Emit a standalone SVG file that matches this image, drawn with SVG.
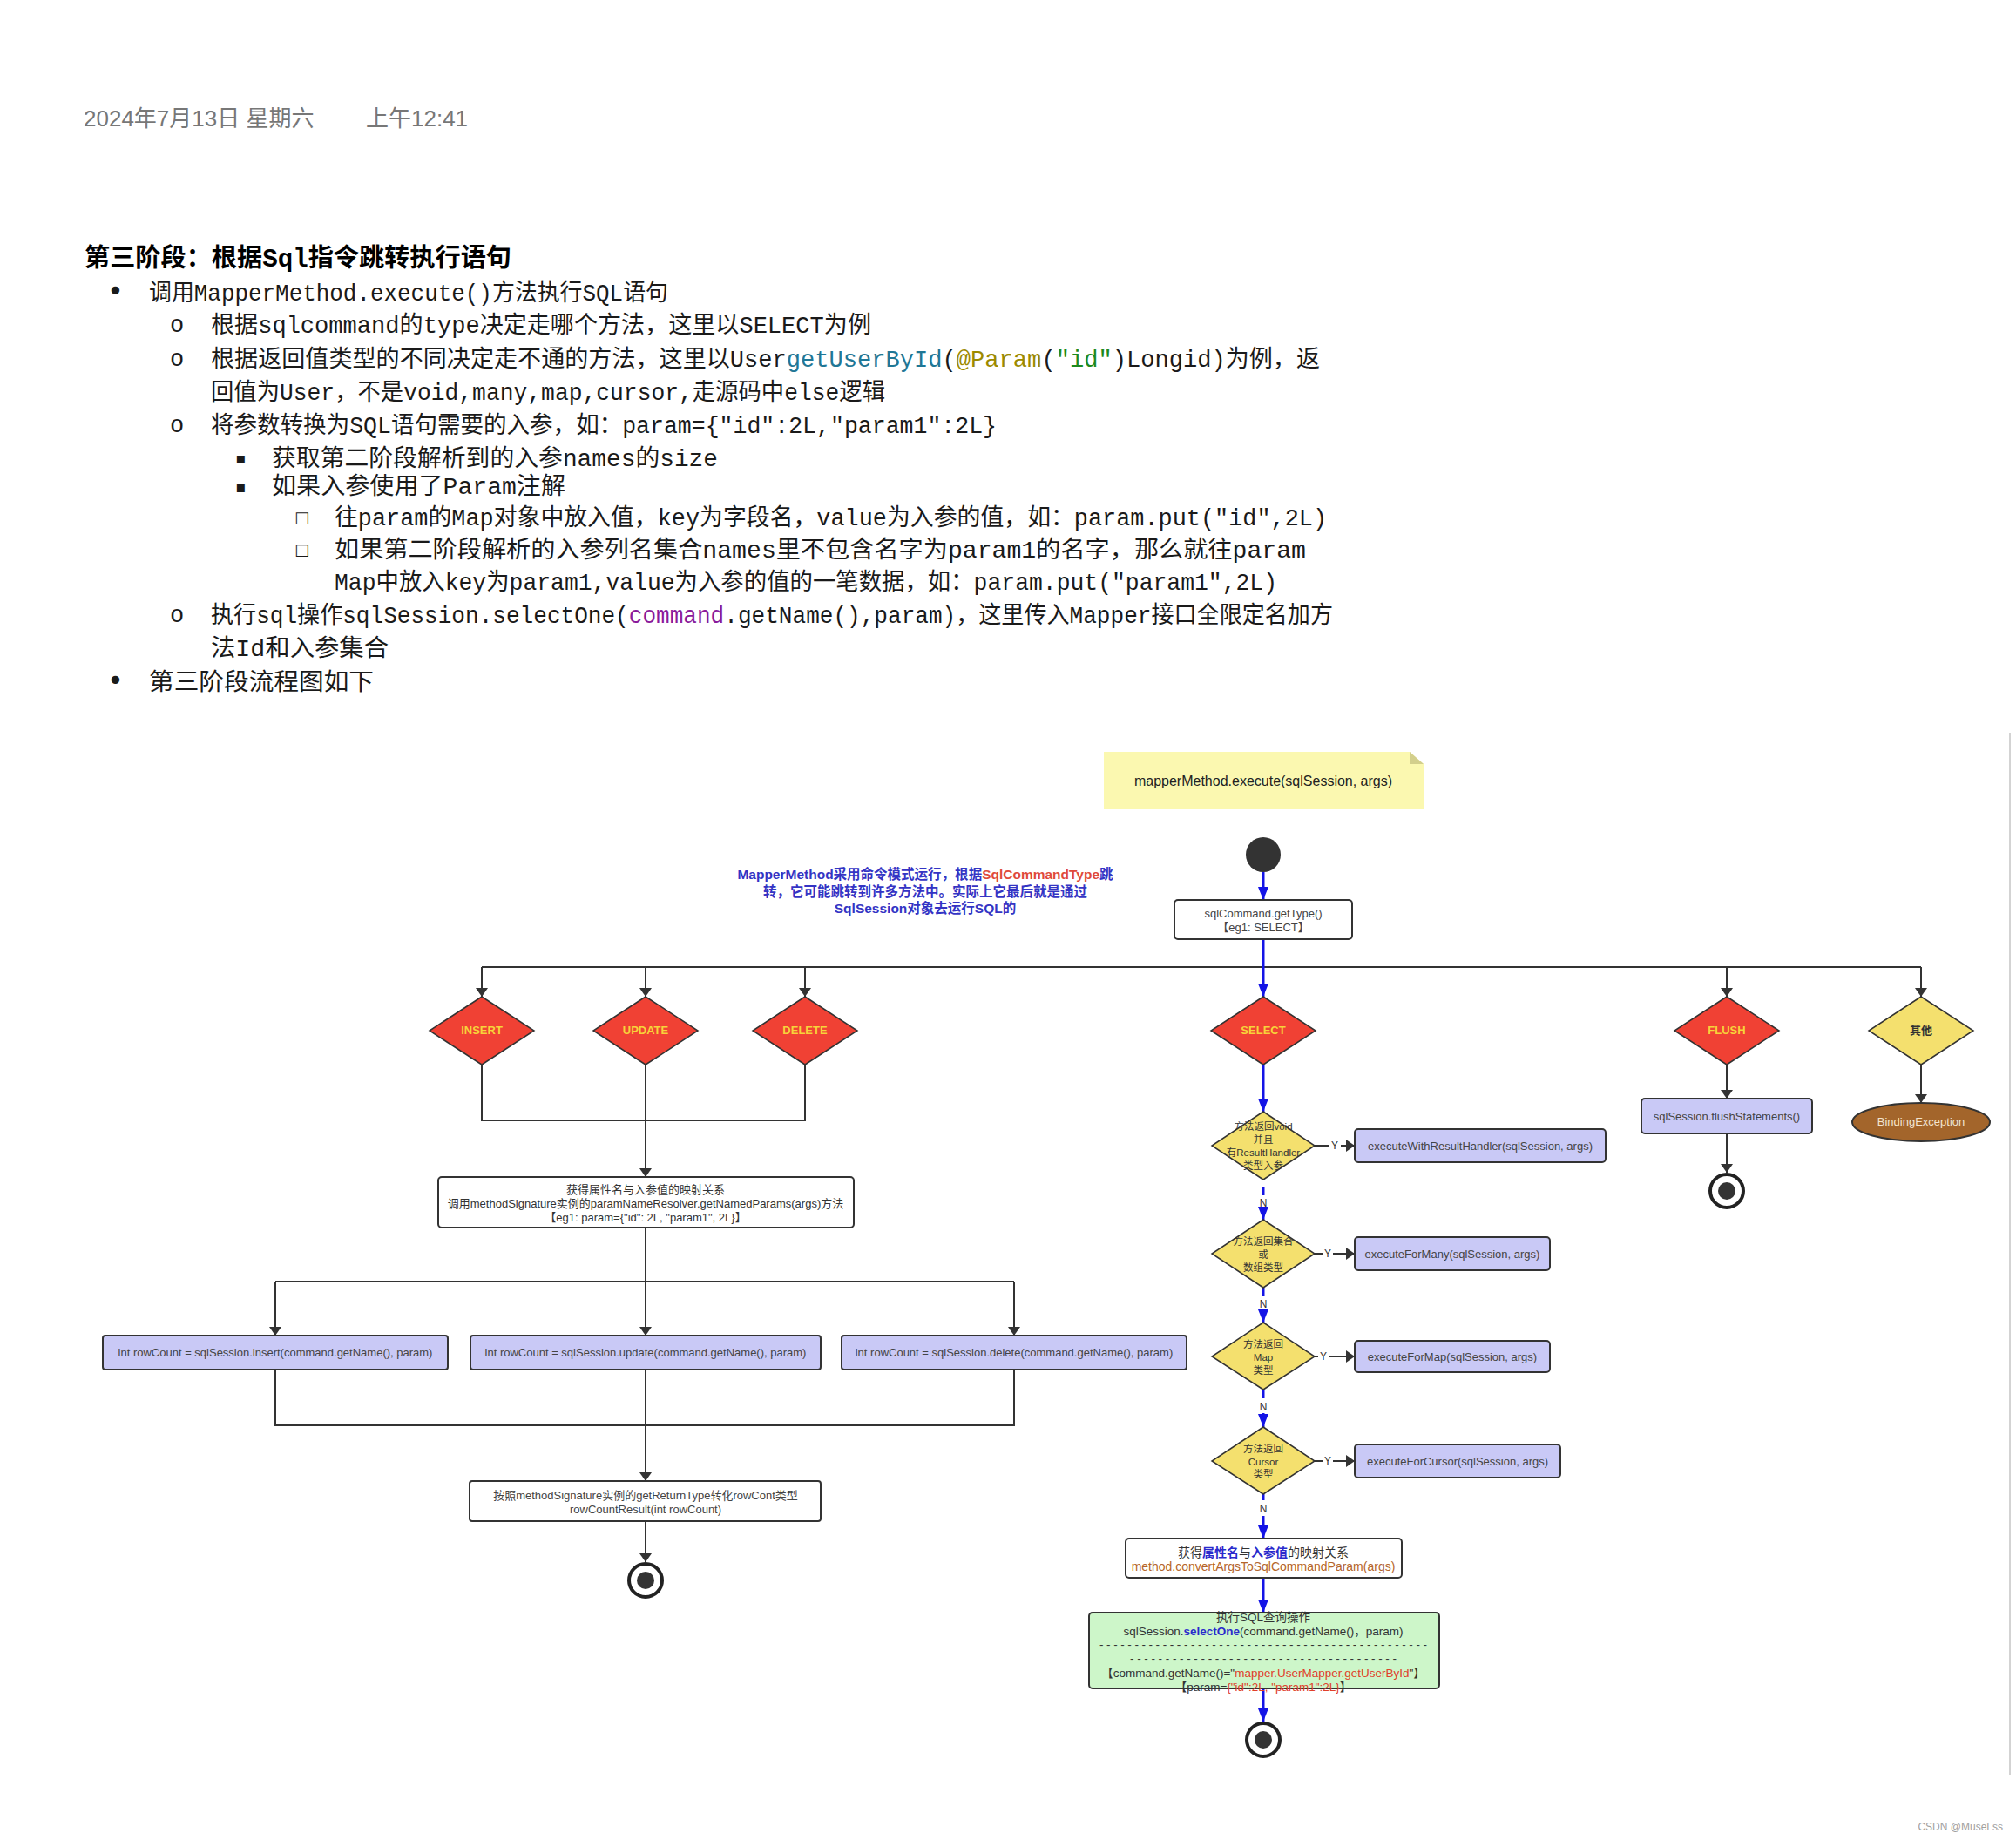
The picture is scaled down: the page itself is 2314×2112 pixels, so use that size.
<svg xmlns="http://www.w3.org/2000/svg" width="2314" height="2112" viewBox="0 0 2314 2112">
<style>
.bg{fill:#fff}
.date{font-family:"Liberation Sans","Noto Sans CJK SC",sans-serif;font-size:26px;fill:#777}
.body{font-family:"Liberation Mono","Noto Sans CJK SC",monospace;font-size:27px;fill:#1a1a1a}
.head{font-family:"Liberation Mono","Noto Sans CJK SC",monospace;font-size:29px;font-weight:bold;fill:#000}
.bul{font-family:"DejaVu Sans","Noto Sans CJK SC",sans-serif;fill:#1a1a1a}
.d{font-family:"Liberation Sans","Noto Sans CJK SC",sans-serif;font-size:13px;fill:#333;text-anchor:middle}
.dl{font-family:"Liberation Sans","Noto Sans CJK SC",sans-serif;font-size:13px;fill:#444;text-anchor:middle}
.dia{font-family:"Liberation Sans","Noto Sans CJK SC",sans-serif;font-size:11.5px;fill:#333;text-anchor:middle}
.lab{font-family:"Liberation Sans","Noto Sans CJK SC",sans-serif;font-size:13px;font-weight:bold;fill:#f7d33a;text-anchor:middle}
.yn{font-family:"Liberation Sans",sans-serif;font-size:12px;fill:#333;text-anchor:middle}
.ann{font-family:"Liberation Sans","Noto Sans CJK SC",sans-serif;font-size:15.5px;font-weight:bold;fill:#3434c4;text-anchor:middle}
.note{font-family:"Liberation Sans","Noto Sans CJK SC",sans-serif;font-size:16px;fill:#222;text-anchor:middle}
.g{font-family:"Liberation Sans","Noto Sans CJK SC",sans-serif;font-size:13.5px;fill:#333;text-anchor:middle}
.dash{font-family:"Liberation Sans",sans-serif;font-size:13.5px;fill:#333}
.box{fill:#fff;stroke:#333;stroke-width:2}
.lav{fill:#c9c9f6;stroke:#333;stroke-width:2}
.red{fill:#f04134;stroke:#333;stroke-width:1.5}
.yel{fill:#f4e06e;stroke:#333;stroke-width:1.5}
.dk{fill:none;stroke:#333;stroke-width:2}
.bl{fill:none;stroke:#1414e6;stroke-width:3}
.endo{fill:#fff;stroke:#222;stroke-width:4}
.endi{fill:#333}
</style>
<defs>
<marker id="ad" viewBox="0 0 10 14" refX="10" refY="7" markerWidth="10" markerHeight="14" markerUnits="userSpaceOnUse" orient="auto"><path d="M0,0 L10,7 L0,14 z" fill="#333"/></marker>
<marker id="ab" viewBox="0 0 15 12" refX="15" refY="6" markerWidth="15" markerHeight="12" markerUnits="userSpaceOnUse" orient="auto"><path d="M0,0 L15,6 L0,12 z" fill="#1414e6"/></marker>
</defs>
<rect class="bg" x="0" y="0" width="2314" height="2112"/>

<g id="page-text">
<text class="date" x="96" y="145">2024年7月13日 星期六</text>
<text class="date" x="420" y="145">上午12:41</text>
<text class="head" x="97" y="306" textLength="490" lengthAdjust="spacingAndGlyphs">第三阶段：根据Sql指令跳转执行语句</text>
<text class="bul" x="123" y="345" style="font-size:32px">•</text>
<text class="body" x="171" y="345" textLength="596" lengthAdjust="spacingAndGlyphs">调用MapperMethod.execute()方法执行SQL语句</text>
<text class="body" x="195" y="381">o</text>
<text class="body" x="242" y="382" textLength="758" lengthAdjust="spacingAndGlyphs">根据sqlcommand的type决定走哪个方法，这里以SELECT为例</text>
<text class="body" x="195" y="420">o</text>
<text class="body" x="242" y="421" textLength="1273" lengthAdjust="spacingAndGlyphs">根据返回值类型的不同决定走不通的方法，这里以User<tspan style="fill:#1f7796">getUserById</tspan>(<tspan style="fill:#9c8a00">@Param</tspan>(<tspan style="fill:#1d8a1d">"id"</tspan>)Longid)为例，返</text>
<text class="body" x="242" y="459" textLength="774" lengthAdjust="spacingAndGlyphs">回值为User，不是void,many,map,cursor,走源码中else逻辑</text>
<text class="body" x="195" y="496">o</text>
<text class="body" x="242" y="497" textLength="902" lengthAdjust="spacingAndGlyphs">将参数转换为SQL语句需要的入参，如：param={"id":2L,"param1":2L}</text>
<text class="bul" x="270" y="532" style="font-size:18px">▪</text>
<text class="body" x="312" y="535" textLength="512" lengthAdjust="spacingAndGlyphs">获取第二阶段解析到的入参names的size</text>
<text class="bul" x="270" y="565" style="font-size:18px">▪</text>
<text class="body" x="312" y="567" textLength="337" lengthAdjust="spacingAndGlyphs">如果入参使用了Param注解</text>
<text class="bul" x="338" y="600" style="font-size:18px">□</text>
<text class="body" x="384" y="603" textLength="1139" lengthAdjust="spacingAndGlyphs">往param的Map对象中放入值，key为字段名，value为入参的值，如：param.put("id",2L)</text>
<text class="bul" x="338" y="637" style="font-size:18px">□</text>
<text class="body" x="384" y="640" textLength="1115" lengthAdjust="spacingAndGlyphs">如果第二阶段解析的入参列名集合names里不包含名字为param1的名字，那么就往param</text>
<text class="body" x="384" y="677" textLength="1082" lengthAdjust="spacingAndGlyphs">Map中放入key为param1,value为入参的值的一笔数据，如：param.put("param1",2L)</text>
<text class="body" x="195" y="714">o</text>
<text class="body" x="242" y="715" textLength="1288" lengthAdjust="spacingAndGlyphs">执行sql操作sqlSession.selectOne(<tspan style="fill:#8b1a9b">command</tspan>.getName(),param)，这里传入Mapper接口全限定名加方</text>
<text class="body" x="242" y="753" textLength="204" lengthAdjust="spacingAndGlyphs">法Id和入参集合</text>
<text class="bul" x="123" y="792" style="font-size:32px">•</text>
<text class="body" x="171" y="792" textLength="258" lengthAdjust="spacingAndGlyphs">第三阶段流程图如下</text>
</g>

<line x1="2307" y1="841" x2="2307" y2="2037" stroke="#c4c4c4" stroke-width="1.5"/>

<g id="connectors">
<path class="dk" d="M553,1110 H2205"/>
<path class="dk" d="M553,1110 V1144" marker-end="url(#ad)"/>
<path class="dk" d="M741,1110 V1144" marker-end="url(#ad)"/>
<path class="dk" d="M924,1110 V1144" marker-end="url(#ad)"/>
<path class="dk" d="M1982,1110 V1144" marker-end="url(#ad)"/>
<path class="dk" d="M2205,1110 V1144" marker-end="url(#ad)"/>
<path class="dk" d="M553,1222 V1286 H924 V1222"/>
<path class="dk" d="M741,1222 V1351" marker-end="url(#ad)"/>
<path class="dk" d="M741,1409 V1471"/>
<path class="dk" d="M316,1471 H1164"/>
<path class="dk" d="M316,1471 V1533" marker-end="url(#ad)"/>
<path class="dk" d="M741,1471 V1533" marker-end="url(#ad)"/>
<path class="dk" d="M1164,1471 V1533" marker-end="url(#ad)"/>
<path class="dk" d="M316,1572 V1636 H1164 V1572"/>
<path class="dk" d="M741,1572 V1700" marker-end="url(#ad)"/>
<path class="dk" d="M741,1746 V1793" marker-end="url(#ad)"/>
<path class="dk" d="M1982,1222 V1261" marker-end="url(#ad)"/>
<path class="dk" d="M1982,1301 V1346" marker-end="url(#ad)"/>
<path class="dk" d="M2205,1222 V1266" marker-end="url(#ad)"/>
<path class="dk" d="M1509,1315 H1526"/><path class="dk" d="M1539,1315 H1555" marker-end="url(#ad)"/>
<text class="yn" x="1532" y="1319">Y</text>
<path class="dk" d="M1509,1439 H1518"/><path class="dk" d="M1530,1439 H1555" marker-end="url(#ad)"/>
<text class="yn" x="1524" y="1443">Y</text>
<path class="dk" d="M1509,1557 H1513"/><path class="dk" d="M1525,1557 H1555" marker-end="url(#ad)"/>
<text class="yn" x="1519" y="1561">Y</text>
<path class="dk" d="M1509,1677 H1518"/><path class="dk" d="M1530,1677 H1555" marker-end="url(#ad)"/>
<text class="yn" x="1524" y="1681">Y</text>
<path class="bl" d="M1450,1001 V1033" marker-end="url(#ab)"/>
<path class="bl" d="M1450,1078 V1144" marker-end="url(#ab)"/>
<path class="bl" d="M1450,1222 V1276" marker-end="url(#ab)"/>
<path class="bl" d="M1450,1362 V1372"/><path class="bl" d="M1450,1388 V1400" marker-end="url(#ab)"/>
<text class="yn" x="1450" y="1385">N</text>
<path class="bl" d="M1450,1478 V1488"/><path class="bl" d="M1450,1504 V1518" marker-end="url(#ab)"/>
<text class="yn" x="1450" y="1501">N</text>
<path class="bl" d="M1450,1595 V1605"/><path class="bl" d="M1450,1622 V1638" marker-end="url(#ab)"/>
<text class="yn" x="1450" y="1619">N</text>
<path class="bl" d="M1450,1715 V1722"/><path class="bl" d="M1450,1740 V1766" marker-end="url(#ab)"/>
<text class="yn" x="1450" y="1736">N</text>
<path class="bl" d="M1450,1811 V1851" marker-end="url(#ab)"/>
<path class="bl" d="M1450,1938 V1976" marker-end="url(#ab)"/>
</g>

<g id="note">
<path d="M1267,863 H1618 L1634,877 V929 H1267 Z" fill="#fbf8b0"/>
<path d="M1618,863 V877 H1634 Z" fill="#d3cf8c"/>
<text class="note" x="1450" y="902">mapperMethod.execute(sqlSession, args)</text>
</g>

<g id="annotation">
<text class="ann" x="1062" y="1009">MapperMethod采用命令模式运行，根据<tspan style="fill:#e04a3a">SqlCommandType</tspan>跳</text>
<text class="ann" x="1062" y="1029">转，它可能跳转到许多方法中。实际上它最后就是通过</text>
<text class="ann" x="1062" y="1048">SqlSession对象去运行SQL的</text>
</g>

<g id="start"><circle cx="1450" cy="981" r="20" fill="#333"/></g>

<g id="getType">
<rect class="box" x="1348" y="1033" width="204" height="45" rx="4"/>
<text class="dl" x="1450" y="1053">sqlCommand.getType()</text>
<text class="dl" x="1450" y="1069">【eg1: SELECT】</text>
</g>

<g id="insert"><polygon class="red" points="553,1144 613,1183 553,1222 493,1183"/><text class="lab" x="553" y="1187">INSERT</text></g>
<g id="update"><polygon class="red" points="741,1144 801,1183 741,1222 681,1183"/><text class="lab" x="741" y="1187">UPDATE</text></g>
<g id="delete"><polygon class="red" points="924,1144 984,1183 924,1222 864,1183"/><text class="lab" x="924" y="1187">DELETE</text></g>
<g id="select"><polygon class="red" points="1450,1144 1510,1183 1450,1222 1390,1183"/><text class="lab" x="1450" y="1187">SELECT</text></g>
<g id="flush"><polygon class="red" points="1982,1144 2042,1183 1982,1222 1922,1183"/><text class="lab" x="1982" y="1187">FLUSH</text></g>
<g id="other"><polygon class="yel" points="2205,1144 2265,1183 2205,1222 2145,1183"/><text class="d" x="2205" y="1187" style="font-weight:bold">其他</text></g>

<g id="namedParams">
<rect class="box" x="503" y="1351" width="477" height="58" rx="4"/>
<text class="d" x="741" y="1370">获得属性名与入参值的映射关系</text>
<text class="d" x="741" y="1386">调用methodSignature实例的paramNameResolver.getNamedParams(args)方法</text>
<text class="d" x="741" y="1402">【eg1: param={"id": 2L, "param1", 2L}】</text>
</g>

<g id="insertCall"><rect class="lav" x="118" y="1533" width="396" height="39" rx="3"/><text class="dl" x="316" y="1557">int rowCount = sqlSession.insert(command.getName(), param)</text></g>
<g id="updateCall"><rect class="lav" x="540" y="1533" width="402" height="39" rx="3"/><text class="dl" x="741" y="1557">int rowCount = sqlSession.update(command.getName(), param)</text></g>
<g id="deleteCall"><rect class="lav" x="966" y="1533" width="396" height="39" rx="3"/><text class="dl" x="1164" y="1557">int rowCount = sqlSession.delete(command.getName(), param)</text></g>

<g id="rowCountResult">
<rect class="box" x="539" y="1700" width="403" height="46" rx="3"/>
<text class="dl" x="741" y="1721">按照methodSignature实例的getReturnType转化rowCont类型</text>
<text class="dl" x="741" y="1737">rowCountResult(int rowCount)</text>
</g>
<g id="end1"><circle class="endo" cx="741" cy="1814" r="19"/><circle class="endi" cx="741" cy="1814" r="10"/></g>

<g id="flushCall"><rect class="lav" x="1884" y="1261" width="196" height="40" rx="4"/><text class="dl" x="1982" y="1286">sqlSession.flushStatements()</text></g>
<g id="end2"><circle class="endo" cx="1982" cy="1367" r="19"/><circle class="endi" cx="1982" cy="1367" r="10"/></g>
<g id="bindingException"><ellipse cx="2205" cy="1288" rx="79" ry="22" fill="#a3652b" stroke="#333" stroke-width="2"/><text class="d" x="2205" y="1292" style="fill:#f3e4cf">BindingException</text></g>

<g id="dVoid"><polygon class="yel" points="1450,1276 1509,1315 1450,1354 1391,1315"/>
<text class="dia" x="1450" y="1297">方法返回void</text><text class="dia" x="1450" y="1312">并且</text><text class="dia" x="1450" y="1327">有ResultHandler</text><text class="dia" x="1450" y="1342">类型入参</text></g>
<g id="resultHandler"><rect class="lav" x="1555" y="1296" width="288" height="38" rx="4"/><text class="dl" x="1699" y="1320">executeWithResultHandler(sqlSession, args)</text></g>

<g id="dMany"><polygon class="yel" points="1450,1400 1509,1439 1450,1478 1391,1439"/>
<text class="dia" x="1450" y="1429">方法返回集合</text><text class="dia" x="1450" y="1444">或</text><text class="dia" x="1450" y="1459">数组类型</text></g>
<g id="forMany"><rect class="lav" x="1555" y="1420" width="224" height="38" rx="4"/><text class="dl" x="1667" y="1444">executeForMany(sqlSession, args)</text></g>

<g id="dMap"><polygon class="yel" points="1450,1518 1509,1557 1450,1595 1391,1557"/>
<text class="dia" x="1450" y="1547">方法返回</text><text class="dia" x="1450" y="1562">Map</text><text class="dia" x="1450" y="1577">类型</text></g>
<g id="forMap"><rect class="lav" x="1555" y="1539" width="224" height="36" rx="4"/><text class="dl" x="1667" y="1562">executeForMap(sqlSession, args)</text></g>

<g id="dCursor"><polygon class="yel" points="1450,1638 1509,1677 1450,1715 1391,1677"/>
<text class="dia" x="1450" y="1667">方法返回</text><text class="dia" x="1450" y="1682">Cursor</text><text class="dia" x="1450" y="1696">类型</text></g>
<g id="forCursor"><rect class="lav" x="1555" y="1658" width="236" height="38" rx="4"/><text class="dl" x="1673" y="1682">executeForCursor(sqlSession, args)</text></g>

<g id="convertArgs">
<rect class="box" x="1292" y="1766" width="317" height="45" rx="4"/>
<text class="g" x="1450" y="1787" style="font-size:14px">获得<tspan style="fill:#2a2acc;font-weight:bold">属性名</tspan>与<tspan style="fill:#2a2acc;font-weight:bold">入参值</tspan>的映射关系</text>
<text class="g" x="1450" y="1803" style="font-size:14px;fill:#b5652a">method.convertArgsToSqlCommandParam(args)</text>
</g>

<g id="selectOne">
<rect x="1250" y="1851" width="402" height="87" rx="4" fill="#cdf6c9" stroke="#333" stroke-width="2"/>
<text class="g" x="1450" y="1861">执行SQL查询操作</text>
<text class="g" x="1450" y="1877">sqlSession.<tspan style="fill:#2a2acc;font-weight:bold">selectOne</tspan>(command.getName()，param)</text>
<text class="dash" x="1262" y="1892" textLength="376" lengthAdjust="spacing">-----------------------------------------------</text>
<text class="dash" x="1297" y="1908" textLength="306" lengthAdjust="spacing">--------------------------------------</text>
<text class="g" x="1450" y="1925">【command.getName()="<tspan style="fill:#e0402a">mapper.UserMapper.getUserById</tspan>"】</text>
<text class="g" x="1450" y="1941">【param=<tspan style="fill:#e0402a">{"id":2L, "param1":2L}</tspan>】</text>
</g>
<g id="end3"><circle class="endo" cx="1450" cy="1997" r="19"/><circle class="endi" cx="1450" cy="1997" r="10"/></g>

<text x="2299" y="2101" style="font-family:'Liberation Sans',sans-serif;font-size:12px;fill:#a0a0a0;text-anchor:end">CSDN @MuseLss</text>
</svg>
